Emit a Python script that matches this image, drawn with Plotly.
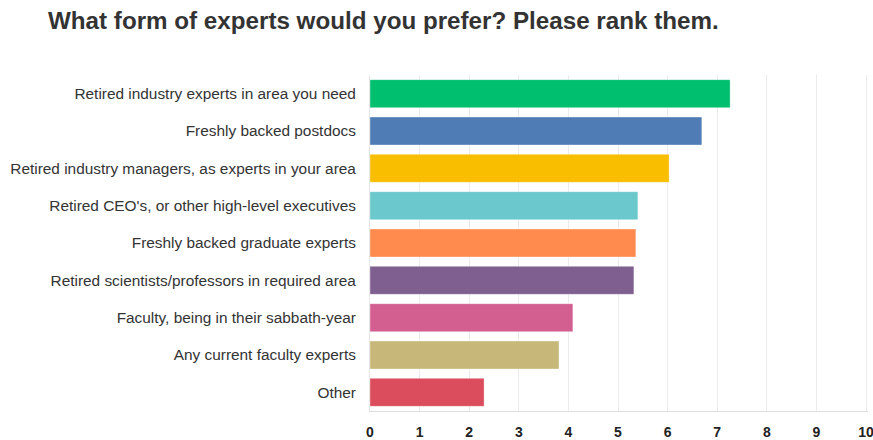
import plotly.graph_objects as go

categories = [
    "Retired industry experts in area you need",
    "Freshly backed postdocs",
    "Retired industry managers, as experts in your area",
    "Retired CEO's, or other high-level executives",
    "Freshly backed graduate experts",
    "Retired scientists/professors in required area",
    "Faculty, being in their sabbath-year",
    "Any current faculty experts",
    "Other",
]
scores = [7.26, 6.69, 6.03, 5.40, 5.36, 5.32, 4.09, 3.81, 2.30]
colors = ["#00BF6F", "#507CB6", "#F9BE00", "#6BC8CD", "#FF8B4F",
          "#7F5F90", "#D25F90", "#C7B879", "#DB4D5C"]
tick_vals = list(range(0, 11))

fig = go.Figure(go.Bar(
    y=categories,
    x=scores,
    orientation="h",
    marker=dict(color=colors, line=dict(color="rgba(255,255,255,0.35)", width=1)),
    hoverinfo="x+y",
))

fig.update_layout(
    width=873, height=440,
    margin=dict(l=370, r=5, t=75, b=29),
    paper_bgcolor="white", plot_bgcolor="white",
    bargap=0.25,
    showlegend=False,
    title=dict(
        text="<b>What form of experts would you prefer? Please rank them.</b>",
        x=48/873, xref="container", xanchor="left",
        y=1-12/440, yref="container", yanchor="top",
        font=dict(family="Liberation Sans, Arial, sans-serif", size=24.2, color="#333333"),
    ),
    font=dict(family="Liberation Sans, Arial, sans-serif"),
)
fig.update_xaxes(
    range=[0, 10.04], tickvals=tick_vals, ticktext=[f"<b>{v}</b>" for v in tick_vals],
    showgrid=True, gridcolor="#EBEBEB", gridwidth=1,
    zeroline=False, showline=True, linecolor="#DDDDDD", linewidth=1,
    tickfont=dict(size=14, color="#222222"), ticks="", ticklabelstandoff=8,
    ticklabeloverflow="allow",
    automargin=False, fixedrange=True,
)
fig.update_yaxes(
    categoryorder="array", categoryarray=categories[::-1],
    tickfont=dict(size=15.4, color="#333333"), ticks="", ticklabelstandoff=10,
    showline=True, linecolor="#E5E5E5", showgrid=False,
    automargin=False, fixedrange=True,
)

fig.write_html("out.html")
